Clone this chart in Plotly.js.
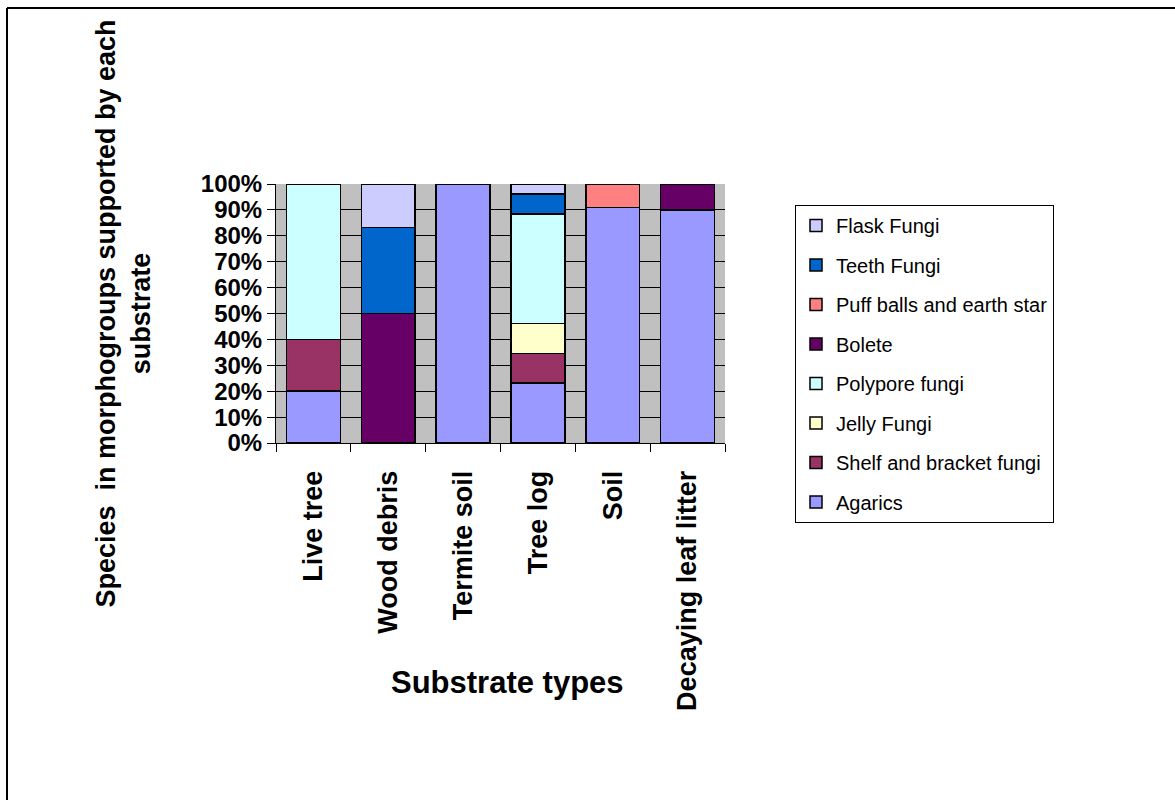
<!DOCTYPE html>
<html>
<head>
<meta charset="utf-8">
<script src="https://cdn.plot.ly/plotly-3.0.1.min.js"></script>
<style>html,body{margin:0;padding:0;background:#fff;}</style>
</head>
<body>
<div id="chart" style="width:1175px;height:800px;"></div>
<script>
// Categories (substrate types)
const substrates = ["Live tree", "Wood debris", "Termite soil", "Tree log", "Soil", "Decaying leaf litter"];

// Percent of species in each morphogroup per substrate (stack order bottom -> top)
const agarics      = [20, 0, 100, 23.1, 90.9, 90];
const shelfBracket = [20, 0, 0, 11.5, 0, 0];
const jellyFungi   = [0, 0, 0, 11.6, 0, 0];
const polypore     = [60, 0, 0, 42.3, 0, 0];
const bolete       = [0, 50, 0, 0, 0, 10];
const puffBalls    = [0, 0, 0, 0, 9.1, 0];
const teethFungi   = [0, 33.3, 0, 7.7, 0, 0];
const flaskFungi   = [0, 16.7, 0, 3.8, 0, 0];

const seriesNames  = ["Agarics", "Shelf and bracket fungi", "Jelly Fungi", "Polypore fungi", "Bolete", "Puff balls and earth star", "Teeth Fungi", "Flask Fungi"];
const seriesValues = [agarics, shelfBracket, jellyFungi, polypore, bolete, puffBalls, teethFungi, flaskFungi];
const seriesColors = ["#9999FF", "#993366", "#FFFFCC", "#CCFFFF", "#660066", "#FF8080", "#0066CC", "#CCCCFF"];

const yTickVals = [0, 10, 20, 30, 40, 50, 60, 70, 80, 90, 100];

const FONT = "Arial, 'Liberation Sans', sans-serif";

const traces = seriesNames.map((name, i) => ({
  type: "bar",
  name: name,
  x: substrates,
  y: seriesValues[i],
  legendgroup: "g" + i,
  legendrank: 1000 - i,
  marker: { color: seriesColors[i], line: { color: "#000000", width: 1.5 } },
  hoverinfo: "x+y+name"
}));

// pixel -> paper helpers for the outer frame
const W = 1175, H = 800, ML = 276, MR = 450, MT = 184, MB = 357;
const PW = W - ML - MR, PH = H - MT - MB;
const px = v => (v - ML) / PW;
const py = v => 1 - (v - MT) / PH;

const layout = {
  width: W,
  height: H,
  margin: { l: ML, r: MR, t: MT, b: MB, pad: 0 },
  paper_bgcolor: "#FFFFFF",
  plot_bgcolor: "#C0C0C0",
  barmode: "stack",
  bargap: 0.28,
  font: { family: FONT, color: "#000000" },
  showlegend: true,
  legend: {
    x: px(795), y: py(205), xanchor: "left", yanchor: "top",
    traceorder: "grouped",
    tracegroupgap: 10.5,
    maxheight: 500,
    bgcolor: "#FFFFFF",
    bordercolor: "#000000",
    borderwidth: 1,
    font: { family: FONT, size: 20, color: "#000000" }
  },
  xaxis: {
    type: "category",
    showline: true, linecolor: "#000000", linewidth: 1,
    ticks: "outside", ticklen: 8, tickcolor: "#000000", tickson: "boundaries",
    tickangle: -90,
    ticklabelstandoff: 16,
    tickfont: { family: FONT, size: 27, color: "#000000", weight: "bold" },
    showgrid: false,
    zeroline: false
  },
  yaxis: {
    range: [0, 100],
    tickvals: yTickVals,
    ticktext: yTickVals.map(v => v + "%"),
    showline: true, linecolor: "#000000", linewidth: 1,
    ticks: "outside", ticklen: 8, tickcolor: "#000000",
    tickfont: { family: FONT, size: 24, color: "#000000", weight: "bold" },
    showgrid: true, gridcolor: "#000000", gridwidth: 1,
    zeroline: false,
    title: {
      text: "Species  in morphogroups supported by each<br>substrate",
      font: { family: FONT, size: 27, color: "#000000", weight: "bold" },
      standoff: 42
    }
  },
  annotations: [{
    text: "Substrate types",
    xref: "paper", yref: "paper",
    x: px(507), y: py(682),
    xanchor: "center", yanchor: "middle",
    showarrow: false,
    font: { family: FONT, size: 31, color: "#000000", weight: "bold" }
  }],
  shapes: [
    { type: "line", xref: "paper", yref: "paper", x0: px(7), x1: px(1180), y0: py(8), y1: py(8), line: { color: "#000000", width: 2 } },
    { type: "line", xref: "paper", yref: "paper", x0: px(7), x1: px(7), y0: py(8), y1: py(805), line: { color: "#000000", width: 2 } }
  ]
};

Plotly.newPlot("chart", traces, layout, { displayModeBar: false, staticPlot: false });
</script>
</body>
</html>
